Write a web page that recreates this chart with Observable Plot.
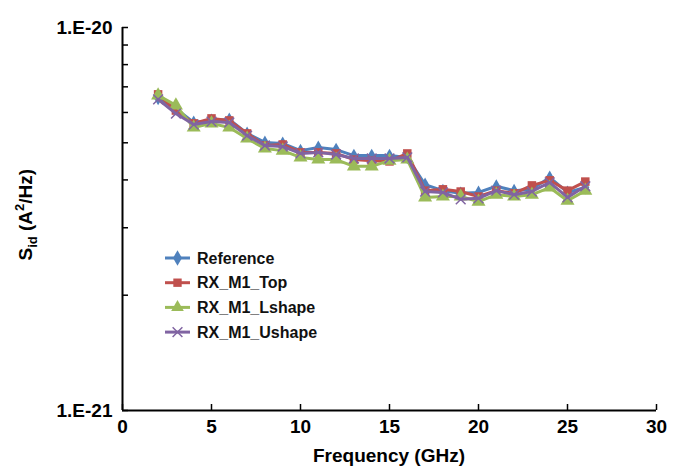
<!DOCTYPE html>
<html><head><meta charset="utf-8">
<script src="https://cdn.jsdelivr.net/npm/d3@7"></script>
<script src="https://cdn.jsdelivr.net/npm/@observablehq/plot@0.6"></script>
<style>
html,body{margin:0;padding:0;background:#fff;}
#chart{position:relative;width:684px;height:472px;}
</style>
</head><body><div id="chart"></div>
<script>
const freq = [2,3,4,5,6,7,8,9,10,11,12,13,14,15,16,17,18,19,20,21,22,23,24,25,26];
// values in units of 1e-21 A^2/Hz
const reference = [6.53,6.14,5.65,5.72,5.75,5.29,5.01,4.98,4.77,4.86,4.80,4.63,4.63,4.63,4.58,3.89,3.75,3.69,3.71,3.85,3.75,3.78,4.06,3.71,3.82];
const rxTop     = [6.69,6.07,5.62,5.79,5.72,5.29,4.92,4.95,4.72,4.72,4.69,4.52,4.49,4.47,4.69,3.75,3.78,3.73,3.62,3.75,3.69,3.87,3.99,3.75,3.96];
const rxLshape  = [6.65,6.26,5.48,5.62,5.48,5.13,4.83,4.77,4.58,4.52,4.52,4.34,4.34,4.49,4.52,3.60,3.62,3.62,3.51,3.66,3.62,3.66,3.82,3.53,3.75];
const rxUshape  = [6.49,5.96,5.58,5.68,5.65,5.22,4.92,4.89,4.69,4.72,4.66,4.55,4.55,4.55,4.58,3.73,3.71,3.56,3.58,3.75,3.66,3.73,3.94,3.60,3.85];
const seriesNames = ["Reference","RX_M1_Top","RX_M1_Lshape","RX_M1_Ushape"];
const seriesColors = ["#4F81BD","#C0504D","#9BBB59","#8064A2"];
const seriesSymbols = ["diamond","square","triangle","times"];
const xTicks = [0,5,10,15,20,25,30];
const yMajor = [1e-21,1e-20];
const yMinor = [2e-21,3e-21,4e-21,5e-21,6e-21,7e-21,8e-21,9e-21];
const yTickLabels = ["1.E-21","1.E-20"];

const allValues = [reference, rxTop, rxLshape, rxUshape];
const data = [];
seriesNames.forEach((name,i)=>{
  freq.forEach((f,j)=>data.push({series:name, f, v: allValues[i][j]*1e-21}));
});

const W=684,H=472,mL=122,mR=28,mT=27,mB=62;
const innerW=W-mL-mR, innerH=H-mT-mB;
const font = "'Liberation Sans', Arial, sans-serif";

const marks = [
  Plot.axisX({ticks:xTicks, tickSize:0, tickPadding:9, tickFormat:d=>String(d), label:null, fontSize:19, fontWeight:"bold", fill:"#000"}),
  Plot.axisY({ticks:yMajor, tickSize:0, tickPadding:10, tickFormat:d=>yTickLabels[yMajor.indexOf(d)], label:null, fontSize:19, fontWeight:"bold", fill:"#000"}),
  Plot.tickX(xTicks, {x:d=>d, insetTop:innerH-6, stroke:"#000", strokeWidth:1.5}),
  Plot.tickY(yMajor.concat(yMinor), {y:d=>d, insetRight:innerW-6, stroke:"#000", strokeWidth:1.5}),
  Plot.ruleX([0], {stroke:"#000", strokeWidth:2}),
  Plot.ruleY([1e-21], {stroke:"#000", strokeWidth:2})
];
seriesNames.forEach((name,i)=>{
  const d = data.filter(r=>r.series===name);
  marks.push(Plot.line(d, {x:"f", y:"v", stroke:seriesColors[i], strokeWidth:3}));
  const sym = seriesSymbols[i];
  if (sym==="times") {
    marks.push(Plot.dot(d, {x:"f", y:"v", symbol:"times", r:4.5, stroke:seriesColors[i], strokeWidth:1.5}));
  } else {
    marks.push(Plot.dot(d, {x:"f", y:"v", symbol:sym, r: sym==="diamond"?4.2:(sym==="square"?4.8:5.2), fill:seriesColors[i], stroke:"none"}));
  }
});

const plot = Plot.plot({
  width:W, height:H, marginLeft:mL, marginRight:mR, marginTop:mT, marginBottom:mB,
  x:{domain:[0,30]},
  y:{type:"log", domain:[1e-21,1e-20]},
  style:{fontFamily:font, background:"#fff", color:"#000", overflow:"visible"},
  marks
});
document.getElementById("chart").appendChild(plot);

const svg = d3.select(plot);
// x axis title
svg.append("text").attr("x", 389).attr("y", 462)
  .attr("text-anchor","middle").attr("font-family",font).attr("font-weight","bold")
  .attr("font-size",19).attr("fill","#000").text("Frequency (GHz)");
// y axis title with subscript and superscript
const yl = svg.append("text").attr("transform",`translate(32,${mT+innerH*0.49}) rotate(-90)`)
  .attr("text-anchor","middle").attr("font-family",font).attr("font-weight","bold")
  .attr("font-size",19).attr("fill","#000");
yl.append("tspan").text("S");
yl.append("tspan").attr("font-size",13).attr("dy",5).text("id");
yl.append("tspan").attr("dy",-5).text(" (A");
yl.append("tspan").attr("font-size",13).attr("dy",-8).text("2");
yl.append("tspan").attr("dy",8).text("/Hz)");

// legend
const lg = svg.append("g").attr("transform","translate(165,258)");
seriesNames.forEach((name,i)=>{
  const g = lg.append("g").attr("transform",`translate(0,${i*24.7})`);
  g.append("line").attr("x1",0).attr("x2",25).attr("y1",0).attr("y2",0).attr("stroke",seriesColors[i]).attr("stroke-width",3);
  const sym = d3.symbol().type({diamond:d3.symbolDiamond,square:d3.symbolSquare,triangle:d3.symbolTriangle,times:d3.symbolTimes}[seriesSymbols[i]]).size(seriesSymbols[i]==="times"?64:70);
  g.append("path").attr("d",sym()).attr("transform","translate(12.5,0)")
    .attr("fill",seriesSymbols[i]==="times"?"none":seriesColors[i])
    .attr("stroke",seriesSymbols[i]==="times"?seriesColors[i]:"none").attr("stroke-width",1.5);
  g.append("text").attr("x",32).attr("y",0).attr("dy","0.35em").attr("text-anchor","start").attr("font-family",font)
    .attr("font-weight","bold").attr("font-size",16).attr("fill","#111").text(name);
});
</script>
</body></html>
